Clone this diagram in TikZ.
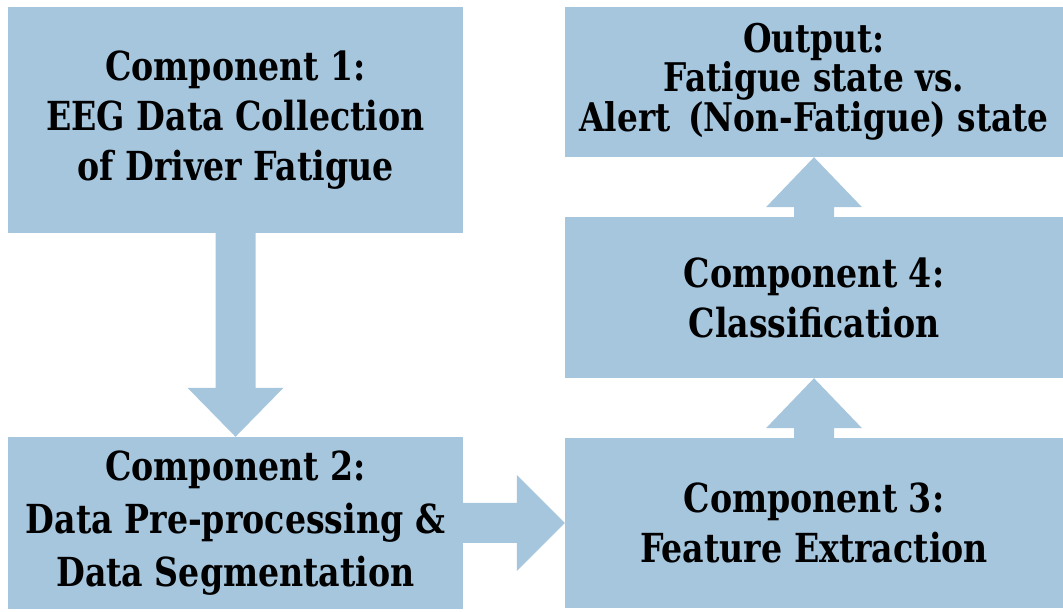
\documentclass[tikz,border=0pt]{standalone}
\usepackage{fontspec}
\newfontfamily\boxfont{DejaVu Serif}[FakeStretch=0.83]
\usetikzlibrary{calc}
\definecolor{boxblue}{RGB}{166,198,222}
\begin{document}
\begin{tikzpicture}[x=1pt,y=1pt,
  comp/.style={fill=boxblue, draw=none, inner sep=0pt, align=center,
    font=\boxfont\bfseries\fontsize{40pt}{50pt}\selectfont, text=black},
  flow/.style={fill=boxblue, draw=none}]
\useasboundingbox (0,0) rectangle (1063,612);
\node[comp, minimum width=455pt, minimum height=226pt] (b1) at (235.5,492) {Component 1:\\EEG Data Collection\\of Driver Fatigue};
\node[comp, minimum width=455pt, minimum height=172pt, font=\boxfont\bfseries\fontsize{40pt}{53pt}\selectfont] (b2) at (235.5,89) {Component 2:\\Data Pre-processing \&\\Data Segmentation};
\node[comp, minimum width=498pt, minimum height=170pt] (b3) at (814,89) {Component 3:\\Feature Extraction};
\node[comp, minimum width=498pt, minimum height=161pt] (b4) at (814,314.5) {Component 4:\\Classification};
\node[comp, minimum width=498pt, minimum height=150pt, font=\boxfont\bfseries\fontsize{39.5pt}{38pt}\selectfont] (out) at (814,530) {Output:\\Fatigue state vs.\\Alert\hspace{0.45em}(Non-Fatigue) state};
% down arrow b1 -> b2
\fill[flow] ($(b1.south)+(-20,0)$) -- ($(b1.south)+(20,0)$) -- ($(b2.north)+(20,49)$) -- ($(b2.north)+(48,49)$) -- (b2.north) -- ($(b2.north)+(-48,49)$) -- ($(b2.north)+(-20,49)$) -- cycle;
% right arrow b2 -> b3
\fill[flow] ($(b2.east)+(0,20)$) -- ($(b3.west)+(-48,20)$) -- ($(b3.west)+(-48,48)$) -- (b3.west) -- ($(b3.west)+(-48,-48)$) -- ($(b3.west)+(-48,-20)$) -- ($(b2.east)+(0,-20)$) -- cycle;
% up arrow b3 -> b4
\fill[flow] ($(b3.north)+(-20,0)$) -- ($(b3.north)+(20,0)$) -- ($(b4.south)+(20,-50)$) -- ($(b4.south)+(48,-50)$) -- (b4.south) -- ($(b4.south)+(-48,-50)$) -- ($(b4.south)+(-20,-50)$) -- cycle;
% up arrow b4 -> out
\fill[flow] ($(b4.north)+(-20,0)$) -- ($(b4.north)+(20,0)$) -- ($(out.south)+(20,-50)$) -- ($(out.south)+(48,-50)$) -- (out.south) -- ($(out.south)+(-48,-50)$) -- ($(out.south)+(-20,-50)$) -- cycle;
\end{tikzpicture}
\end{document}
